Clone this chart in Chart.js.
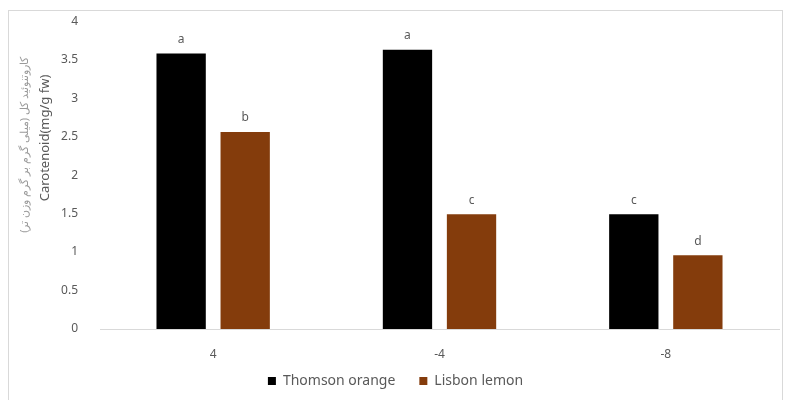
<!DOCTYPE html>
<html>
<head>
<meta charset="utf-8">
<script src="https://cdn.jsdelivr.net/npm/chart.js@4.4.0/dist/chart.umd.min.js"></script>
<style>
  body { margin: 0; background: #fff; }
  #wrap { position: relative; width: 785px; height: 400px; }
  #frame { position: absolute; left: 8px; top: 10px; width: 773px; height: 400px; border: 1px solid #d9d9d9; }
  canvas { position: absolute; left: 0; top: 0; }
</style>
</head>
<body>
<div id="wrap">
  <div id="frame"></div>
  <canvas id="chart" width="785" height="400"></canvas>
</div>
<script>
// dati
var categories = ["4", "-4", "-8"];
var thomson = [3.58, 3.63, 1.49];
var lisbon = [2.56, 1.49, 0.96];
var thomsonLetters = ["a", "a", "c"];
var lisbonLetters = ["b", "c", "d"];
var titleFa = "کاروتنوئید کل (میلی گرم بر گرم وزن تر)";
var titleEn = "Carotenoid(mg/g fw)";

var grey = "#595959";
var font = "'Noto Sans', sans-serif";

// plugin per le lettere sopra le barre
var letterPlugin = {
    id: "letters",
    afterDatasetsDraw: function(chart){
        var ctx = chart.ctx;
        ctx.save();
        ctx.fillStyle = grey;
        ctx.font = "12px " + font;
        ctx.textAlign = "center";
        ctx.textBaseline = "bottom";
        chart.data.datasets.forEach(function(ds, i){
            chart.getDatasetMeta(i).data.forEach(function(bar, j){
                ctx.fillText(ds.letters[j], bar.x, bar.y - 8);
            });
        });
        ctx.restore();
    }
};

// titoli dell'asse y (due righe, ruotate)
var titlePlugin = {
    id: "ytitles",
    afterDraw: function(chart){
        var ctx = chart.ctx;
        ctx.save();
        ctx.textAlign = "center";
        ctx.textBaseline = "middle";
        ctx.translate(25, 145);
        ctx.rotate(-Math.PI / 2);
        ctx.fillStyle = "#9a9a9a";
        ctx.font = "11px " + font;
        ctx.fillText(titleFa, 0, 0);
        ctx.restore();

        ctx.save();
        ctx.textAlign = "center";
        ctx.textBaseline = "middle";
        ctx.translate(45, 138);
        ctx.rotate(-Math.PI / 2);
        ctx.fillStyle = grey;
        ctx.font = "13px " + font;
        ctx.fillText(titleEn, 0, 0);
        ctx.restore();
    }
};

// sposta la legenda un po' più in alto
var legendShift = {
    id: "legendShift",
    afterLayout: function(chart){
        chart.legend.top -= 17;
        chart.legend.bottom -= 17;
    }
};

var ctx = document.getElementById("chart");

var chart = new Chart(ctx, {
    type: "bar",
    data: {
        labels: categories,
        datasets: [{
            label: "Thomson orange",
            data: thomson,
            letters: thomsonLetters,
            backgroundColor: "#000000",
            barPercentage: 0.77,
            categoryPercentage: 0.566
        }, {
            label: "Lisbon lemon",
            data: lisbon,
            letters: lisbonLetters,
            backgroundColor: "#843c0c",
            barPercentage: 0.77,
            categoryPercentage: 0.566
        }]
    },
    options: {
        responsive: false,
        animation: false,
        layout: { padding: { left: 12, right: 6, top: 15, bottom: -15 } },
        plugins: {
            legend: {
                position: "bottom",
                labels: {
                    color: grey,
                    font: { family: font, size: 14 },
                    boxWidth: 8,
                    boxHeight: 8,
                    padding: 24
                }
            },
            tooltip: { enabled: false }
        },
        scales: {
            x: {
                grid: { display: false },
                border: { color: "#d9d9d9" },
                ticks: { color: grey, font: { family: font, size: 12 }, padding: 10 },
                afterFit: function(axis){ axis.height = 38; }
            },
            y: {
                min: 0,
                max: 4,
                ticks: {
                    stepSize: 0.5,
                    color: grey,
                    font: { family: font, size: 12 },
                    padding: 14,
                    callback: function(v){ return String(v); }
                },
                grid: { display: false },
                border: { display: false },
                afterFit: function(axis){ axis.width = 88; }
            }
        }
    },
    plugins: [letterPlugin, titlePlugin, legendShift]
});
</script>
</body>
</html>
